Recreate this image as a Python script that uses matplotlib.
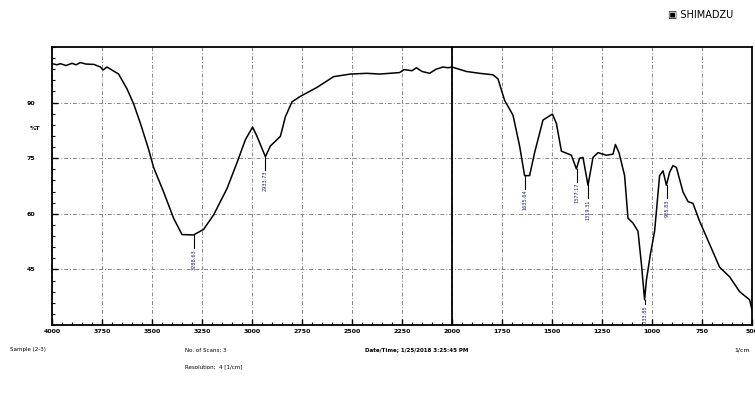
import matplotlib
matplotlib.use("Agg")
import matplotlib.pyplot as plt
import numpy as np

# spectrum (wavenumber 1/cm, %T)
wavenumber = [4000, 3975, 3958, 3930, 3900, 3880, 3858, 3830, 3790, 3758, 3745, 3725,
              3667, 3625, 3592, 3558, 3517, 3492, 3442, 3392, 3350, 3292, 3242, 3192,
              3125, 3075, 3033, 2997, 2975, 2933, 2908, 2858, 2833, 2800, 2758, 2675,
              2592, 2508, 2425, 2362, 2262, 2240, 2200, 2178, 2150, 2112, 2080, 2045,
              2020, 2000, 1928, 1862, 1795, 1770, 1737, 1695, 1662, 1637, 1612, 1587,
              1545, 1498, 1478, 1453, 1403, 1378, 1362, 1345, 1320, 1295, 1270, 1228,
              1195, 1183, 1165, 1137, 1120, 1095, 1070, 1053, 1037, 1028, 1008, 987,
              962, 945, 928, 912, 895, 878, 845, 820, 795, 762, 712, 662, 612, 562,
              512, 500]
transmittance = [100.5, 100.2, 100.5, 100.0, 100.6, 100.2, 100.8, 100.4, 100.3, 99.6, 98.8, 99.6,
                 97.7, 93.7, 89.7, 84.4, 77.4, 72.5, 65.9, 58.8, 54.4, 54.3, 55.8, 59.7,
                 66.8, 73.8, 80.0, 83.4, 80.9, 75.4, 78.3, 80.9, 86.2, 90.2, 91.7, 94.1,
                 97.0, 97.7, 97.9, 97.7, 98.1, 98.9, 98.6, 99.4, 98.4, 97.9, 99.0, 99.6,
                 99.4, 99.6, 98.4, 97.9, 97.5, 96.4, 90.6, 86.6, 78.3, 70.3, 70.3, 76.5,
                 85.3, 86.9, 84.4, 76.9, 75.8, 72.1, 75.0, 75.2, 67.7, 75.2, 76.5, 75.8,
                 76.1, 78.7, 76.5, 70.3, 58.8, 57.5, 55.3, 46.5, 36.8, 42.1, 49.1, 55.3,
                 70.3, 71.6, 67.7, 71.2, 73.0, 72.5, 65.9, 63.3, 62.8, 58.0, 51.8, 45.6,
                 43.0, 39.0, 36.8, 34.1]

peak_wn = [3288.63, 2933.73, 1635.64, 1377.17, 1319.31, 1033.85, 925.83]
peak_t = [54.3, 75.4, 70.3, 72.1, 67.7, 36.8, 67.7]

x_ticks = [4000, 3750, 3500, 3250, 3000, 2750, 2500, 2250, 2000,
           1750, 1500, 1250, 1000, 750, 500]
x_labels = ["4000", "3750", "3500", "3250", "3000", "2750", "2500", "2250", "2000",
            "1750", "1500", "1250", "1000", "750", "500"]
y_ticks = [45, 60, 75, 90]

fig = plt.figure(figsize=(7.55, 3.97), dpi=100)
ax = fig.add_axes([52 / 755, 1 - 325 / 397, 700 / 755, 278 / 397])

ax.plot(wavenumber, transmittance, color="black", lw=1.1)
ax.set_xlim(4000, 500)
ax.set_ylim(30, 105)

ax.set_xticks(x_ticks)
ax.set_xticklabels(x_labels, fontsize=4.5, fontweight="bold")
ax.set_xticks(np.arange(500, 4001, 50), minor=True)
ax.set_yticks(y_ticks)
ax.set_yticklabels([str(v) for v in y_ticks], fontsize=4.5, fontweight="bold")
ax.set_yticks(np.arange(30, 106, 3), minor=True)
ax.tick_params(which="major", direction="in", length=4, width=1, pad=3)
ax.tick_params(axis="y", which="major", pad=12)
ax.tick_params(which="minor", direction="in", length=2.5, width=0.8)
ax.grid(True, which="major", color="#888888", ls=(0, (1, 2, 4, 2)), lw=0.7)
for s in ax.spines.values():
    s.set_linewidth(1.3)
ax.axvline(2000, color="black", lw=1.3)

# peak markers: short drop line, then the rotated wavenumber
for w, t in zip(peak_wn, peak_t):
    drop = min(3.5, t - 30 - 5.6)
    ax.plot([w, w], [t, t - drop], color="black", lw=0.8)
    ax.text(w, t - drop - 0.3, f"{w:.2f}", rotation=90, ha="center", va="top",
            fontsize=3.6, color="#202070")

fig.text(30 / 755, 1 - 128 / 397, "%T", fontsize=4.5, fontweight="bold", va="center")
fig.text(742 / 755, 1 - 350 / 397, "1/cm", fontsize=4.5, ha="center", va="center")

fig.text(10 / 755, 1 - 350 / 397, "Sample (2-3)", fontsize=4, va="center")
fig.text(185 / 755, 1 - 350 / 397, "No. of Scans; 3", fontsize=4, va="center")
fig.text(185 / 755, 1 - 367 / 397, "Resolution;  4 [1/cm]", fontsize=4, va="center")
fig.text(365 / 755, 1 - 350 / 397, "Date/Time; 1/25/2018 3:25:45 PM", fontsize=4,
         fontweight="bold", va="center")
fig.text(668 / 755, 1 - 15 / 397, "\u25A3 SHIMADZU", fontsize=7, va="center")

fig.savefig("out.png", dpi=100)
